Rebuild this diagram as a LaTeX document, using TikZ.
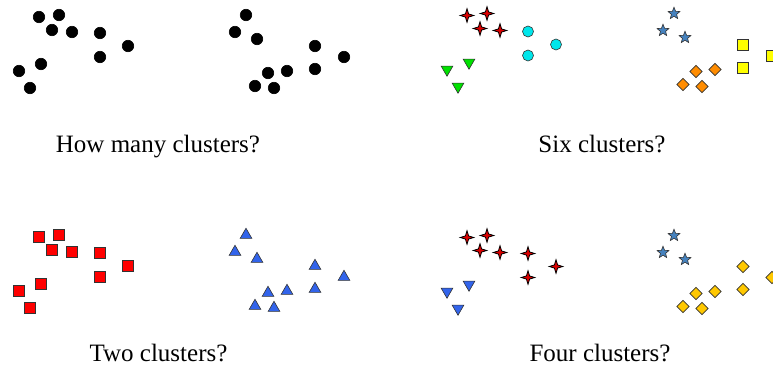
\documentclass[tikz,border=0pt]{standalone}
\usepackage{fontspec}
\setmainfont{Liberation Serif}
\usetikzlibrary{shapes.geometric}

\definecolor{ptred}{RGB}{220,0,0}
\definecolor{ptcyan}{RGB}{0,230,235}
\definecolor{ptgreen}{RGB}{0,225,0}
\definecolor{ptsteel}{RGB}{70,130,190}
\definecolor{ptorange}{RGB}{255,140,0}
\definecolor{ptyellow}{RGB}{255,255,0}
\definecolor{ptgold}{RGB}{255,200,0}
\definecolor{ptblue}{RGB}{50,100,235}

% the same twenty points in every panel, in six small groups
\newcommand\ptsA{39/17,59/15,52/30,72/32}
\newcommand\ptsB{100/33,128/46,100/57}
\newcommand\ptsC{19/71,41/64,30/88}
\newcommand\ptsD{246/15,235/32,257/39}
\newcommand\ptsE{268/73,287/71,255/86,274/88}
\newcommand\ptsF{315/46,315/69,344/57}
\newcommand\drawgroup[3]{\foreach \px/\py [count=\k] in #3 {\node[#2] (#1\k) at (\px,\py) {};}}

\begin{document}
\begin{tikzpicture}[x=1pt,y=-1pt,
 mk/.style={inner sep=0pt,draw=black!80,line width=0.6pt},
 blk/.style={mk,circle,fill=black,draw=black,minimum size=11.5pt},
 cyn/.style={mk,circle,fill=ptcyan,minimum size=11pt},
 grn/.style={mk,regular polygon,regular polygon sides=3,shape border rotate=180,fill=ptgreen,minimum size=13.5pt},
 sparkle/.style={mk,star,star points=4,star point ratio=3,fill=ptred,draw=black,line width=0.8pt,minimum size=13.5pt},
 stl/.style={mk,star,star points=5,star point ratio=2.3,fill=ptsteel,minimum size=12.5pt},
 org/.style={mk,diamond,fill=ptorange,minimum size=12.5pt},
 gld/.style={mk,diamond,fill=ptgold,minimum size=12.5pt},
 ylw/.style={mk,rectangle,fill=ptyellow,minimum size=11pt},
 rsq/.style={mk,rectangle,fill=red,minimum size=11pt},
 btri/.style={mk,regular polygon,regular polygon sides=3,fill=ptblue,minimum size=13.5pt},
 bdown/.style={btri,shape border rotate=180},
 question/.style={font=\fontsize{25}{30}\selectfont,anchor=base,inner sep=0pt}]
\useasboundingbox (0,0) rectangle (773,367);

% top left: no labels yet
\drawgroup{tl-a}{blk}{\ptsA}
\drawgroup{tl-b}{blk}{\ptsB}
\drawgroup{tl-c}{blk}{\ptsC}
\drawgroup{tl-d}{blk}{\ptsD}
\drawgroup{tl-e}{blk}{\ptsE}
\drawgroup{tl-f}{blk}{\ptsF}
\node[question] (q-tl) at (158,152) {How many clusters?};

% top right: six groups
\begin{scope}[shift={(428,-1.5)}]
\drawgroup{tr-a}{sparkle}{\ptsA}
\drawgroup{tr-b}{cyn}{\ptsB}
\drawgroup{tr-c}{grn}{\ptsC}
\drawgroup{tr-d}{stl}{\ptsD}
\drawgroup{tr-e}{org}{\ptsE}
\drawgroup{tr-f}{ylw}{\ptsF}
\end{scope}
\node[question] (q-tr) at (602,152) {Six clusters?};

% bottom left: two groups
\begin{scope}[shift={(0,220)}]
\drawgroup{bl-a}{rsq}{\ptsA}
\drawgroup{bl-b}{rsq}{\ptsB}
\drawgroup{bl-c}{rsq}{\ptsC}
\drawgroup{bl-d}{btri}{\ptsD}
\drawgroup{bl-e}{btri}{\ptsE}
\drawgroup{bl-f}{btri}{\ptsF}
\end{scope}
\node[question] (q-bl) at (158.5,361) {Two clusters?};

% bottom right: four groups
\begin{scope}[shift={(428,220.5)}]
\drawgroup{br-a}{sparkle}{\ptsA}
\drawgroup{br-b}{sparkle}{\ptsB}
\drawgroup{br-c}{bdown}{\ptsC}
\drawgroup{br-d}{stl}{\ptsD}
\drawgroup{br-e}{gld}{\ptsE}
\drawgroup{br-f}{gld}{\ptsF}
\end{scope}
\node[question] (q-br) at (600,361) {Four clusters?};
\end{tikzpicture}
\end{document}
